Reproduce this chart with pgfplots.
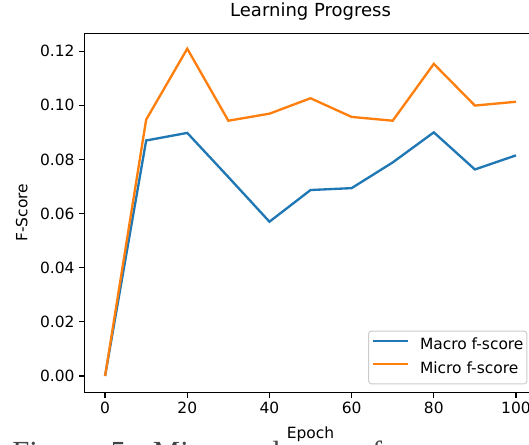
\documentclass[border=0pt]{standalone}
\usepackage{pgfplots}
\pgfplotsset{compat=1.18}
\usepackage{fontspec}
\setmainfont{DejaVu Sans}
\newfontfamily\capfont{Liberation Serif}
\definecolor{mplblue}{HTML}{1F77B4}
\definecolor{mplorange}{HTML}{FF7F0E}
\definecolor{capgray}{HTML}{444444}
\begin{document}
\begin{tikzpicture}
\useasboundingbox (0,0) rectangle (396.75pt,333pt);
\clip (0,0) rectangle (396.75pt,333pt);
\begin{axis}[
  at={(63.4pt,38.8pt)}, anchor=south west,
  scale only axis, width=339pt, height=269.25pt,
  xmin=-5, xmax=105, ymin=-0.006, ymax=0.1266,
  xtick={0,20,40,60,80,100},
  ytick={0,0.02,0.04,0.06,0.08,0.10,0.12},
  tick align=outside, tick pos=left, major tick length=4pt,
  every tick/.style={black, line width=0.9pt},
  axis line style={black, line width=0.9pt},
  /pgf/number format/assume math mode=true,
  yticklabel style={/pgf/number format/.cd, fixed, fixed zerofill, precision=2},
  scaled y ticks=false,
  ticklabel style={font=\fontsize{11.6}{13}\selectfont},
  title={Learning Progress},
  title style={at={(axis description cs:0.5,1.0258)}, anchor=base, font=\fontsize{13.5}{15}\selectfont},
  xlabel={Epoch},
  xlabel style={at={(axis description cs:0.5,-0.1292)}, anchor=base, font=\fontsize{11.6}{13}\selectfont},
  ylabel={F-Score},
  ylabel style={at={(axis description cs:-0.139,0.5)}, anchor=center, font=\fontsize{11.6}{13}\selectfont},
  legend image code/.code={\draw[#1] (0pt,3.6pt) -- (26pt,3.6pt);},
  legend cell align=left,
  legend style={at={(axis description cs:0.9796,0.0223)}, anchor=south east,
    draw=black!20, rounded corners=2pt, line width=0.75pt,
    inner xsep=2.5pt, inner ysep=5.5pt,
    nodes={inner sep=0pt, text height=8.5pt, text depth=2.5pt},
    column sep=8.25pt, row sep=6.5pt,
    font=\fontsize{11.6}{13}\selectfont},
]
\addplot[mplblue, line width=1.75pt] coordinates {
(0,0) (10,0.0870) (20,0.0898) (30,0.0735) (40,0.0570) (50,0.0687)
(60,0.0694) (70,0.0789) (80,0.0900) (90,0.0763) (100,0.0815)};
\addlegendentry{Macro f-score}
\addplot[mplorange, line width=1.75pt] coordinates {
(0,0) (10,0.0947) (20,0.1209) (30,0.0943) (40,0.0969) (50,0.1026)
(60,0.0957) (70,0.0943) (80,0.1153) (90,0.0999) (100,0.1013)};
\addlegendentry{Micro f-score}
\end{axis}
\node[anchor=base west, inner sep=0pt, text=capgray, font=\capfont\fontsize{23}{25}\selectfont] at (9pt,-14.1pt) {Figure\hspace{0.6em}5:\hspace{0.6em}Micro and macro f-scores};
\end{tikzpicture}
\end{document}
